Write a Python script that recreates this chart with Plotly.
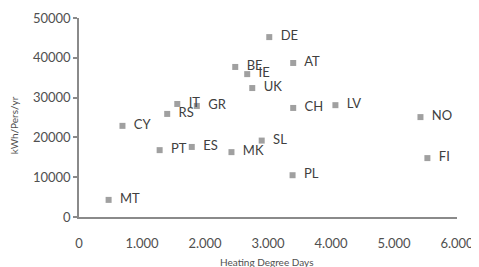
import plotly.graph_objects as go

countries = ["DE", "AT", "BE", "IE", "UK", "CH", "LV", "NO", "FI", "PL",
             "SL", "MK", "ES", "PT", "MT", "CY", "RS", "IT", "GR"]
hdd = [3020, 3400, 2480, 2670, 2750, 3400, 4070, 5420, 5530, 3390,
       2900, 2420, 1790, 1280, 470, 690, 1400, 1560, 1870]
kwh = [45200, 38700, 37700, 35900, 32400, 27400, 28100, 25100, 14800, 10500,
       19200, 16300, 17600, 16800, 4300, 22900, 25900, 28400, 27900]

x_tickvals = [0, 1000, 2000, 3000, 4000, 5000, 6000]
x_ticktext = ["0", "1.000", "2.000", "3.000", "4.000", "5.000", "6.000"]
y_tickvals = [0, 10000, 20000, 30000, 40000, 50000]
y_ticktext = ["0", "10000", "20000", "30000", "40000", "50000"]
x_title = "Heating Degree Days"
y_title = "kWh/Pers/yr"

FONT = "Lato"
AX = "#8a8a8a"
TXT = "#505050"

fig = go.Figure()
fig.add_trace(go.Scatter(
    x=hdd, y=kwh, mode="markers+text",
    text=countries, texttemplate="  %{text}",
    textposition="middle right",
    textfont=dict(family=FONT, size=13, color="#404040"),
    marker=dict(symbol="square", size=6, color="#a0a0a0",
                line=dict(width=0)),
    cliponaxis=False, showlegend=False,
))

# page body has an 8px default margin, so the figure is 8px smaller and offset
fig.update_layout(
    width=471, height=259,
    margin=dict(l=71, r=22, t=10, b=50, autoexpand=False),
    paper_bgcolor="white", plot_bgcolor="white",
    font=dict(family=FONT, color=TXT),
    xaxis=dict(
        range=[0, 6000], tickvals=x_tickvals, ticktext=x_ticktext,
        showgrid=False, zeroline=False, showline=True, linecolor=AX, linewidth=1.5,
        ticks="", ticklabelstandoff=14, automargin=False,
        tickfont=dict(family=FONT, size=13, color=TXT),
    ),
    yaxis=dict(
        range=[0, 50000], tickvals=y_tickvals, ticktext=y_ticktext,
        showgrid=False, zeroline=False, showline=True, linecolor=AX, linewidth=1.5,
        ticks="outside", ticklen=4, tickcolor=AX, tickwidth=1.5, automargin=False,
        tickfont=dict(family=FONT, size=13, color=TXT),
    ),
    annotations=[
        dict(text=x_title, xref="paper", yref="paper", x=0.497, y=-0.226,
             showarrow=False, xanchor="center", yanchor="middle",
             font=dict(family=FONT, size=10, color=TXT)),
        dict(text=y_title, xref="paper", yref="paper", x=-0.17, y=0.46,
             showarrow=False, xanchor="center", yanchor="middle", textangle=-90,
             font=dict(family=FONT, size=10, color=TXT)),
    ],
)

fig.write_html("out.html")
